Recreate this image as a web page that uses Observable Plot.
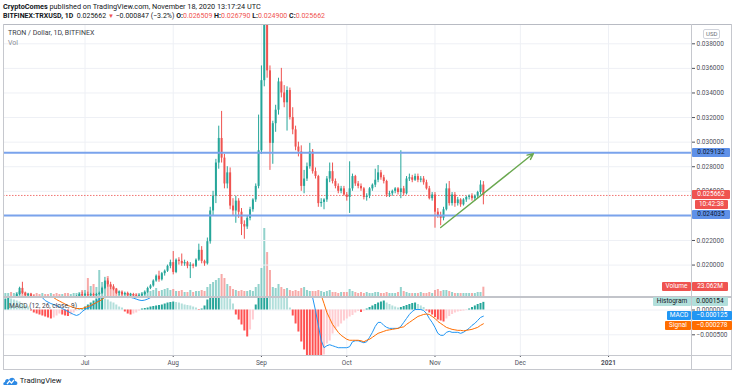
<!DOCTYPE html>
<html>
<head>
<meta charset="utf-8">
<script src="https://cdn.jsdelivr.net/npm/d3@7"></script>
<script src="https://cdn.jsdelivr.net/npm/@observablehq/plot@0.6"></script>
<style>
html,body{margin:0;padding:0;background:#fff;}
#wrap{position:relative;width:736px;height:391px;overflow:hidden;font-family:Roboto,"Open Sans",sans-serif;color:#131722;}
.t{position:absolute;white-space:nowrap;}
.bx{position:absolute;height:9px;line-height:9px;font-size:6.5px;white-space:nowrap;text-align:center;border-radius:1px;}
.ln{position:absolute;background:#c6c8ce;}
</style>
</head>
<body>
<div id="wrap"></div>
<script>
// ---------- DATA (daily candles BITFINEX:TRXUSD, 2020-06-03 .. 2020-11-18) ----------
const firstDay = "2020-06-03";
const dayAfterLast = "2020-11-19";

const open = [
 0.0169,0.0171,0.0172,0.0171,0.0173,0.0176,0.0181,0.0177,0.0175,0.0176,0.0174,0.0171,0.0170,0.0168,0.0169,0.0167,0.0166,0.0168,0.0167,0.0165,0.0164,0.0166,0.0165,0.0163,0.0166,0.0170,0.0173,0.0176,
 0.0175,0.0176,0.0175,0.0176,0.0175,0.0176,0.0177,0.0181,0.0187,0.0184,0.0182,0.0180,0.0177,0.0178,0.0176,0.0177,0.0175,0.0176,0.0175,0.0174,0.0175,0.0176,0.0178,0.0181,0.0183,0.0187,0.0191,0.0188,0.0193,0.0195,0.0199,
 0.0202,0.0194,0.0204,0.0203,0.0201,0.0202,0.0199,0.0200,0.0199,0.0204,0.0212,0.0203,0.0201,0.0219,0.0244,0.0256,0.0283,0.0303,0.0287,0.0266,0.0275,0.0248,0.0244,0.0252,0.0243,0.0233,0.0231,0.0238,0.0245,0.0253,0.0264,
 0.0293,0.0350,0.0405,0.0358,0.0299,0.0315,0.0326,0.0349,0.0340,0.0332,0.0342,0.0320,0.0310,0.0296,0.0292,0.0264,0.0270,0.0280,0.0292,0.0276,0.0272,0.0250,0.0251,0.0253,0.0270,0.0276,0.0268,0.0264,0.0260,0.0262,0.0257,
 0.0255,0.0262,0.0272,0.0266,0.0264,0.0262,0.0255,0.0256,0.0262,0.0265,0.0269,0.0275,0.0271,0.0268,0.0257,0.0258,0.0260,0.0262,0.0259,0.0262,0.0258,0.0270,0.0271,0.0269,0.0272,0.0269,0.0270,0.0267,0.0262,0.0254,0.0257,
 0.0243,0.0240,0.0238,0.0245,0.0262,0.0250,0.0257,0.0250,0.0253,0.0249,0.0253,0.0255,0.0256,0.0254,0.0256,0.0259,0.026509
];
const high = [
 0.0172,0.0173,0.0173,0.0174,0.0177,0.0182,0.0186,0.0178,0.0177,0.0177,0.0175,0.0172,0.0171,0.0170,0.0170,0.0168,0.0169,0.0169,0.0168,0.0166,0.0167,0.0167,0.0166,0.0167,0.0171,0.0175,0.0177,0.0178,
 0.0177,0.0178,0.0177,0.0177,0.0177,0.0178,0.0182,0.0190,0.0189,0.0186,0.0184,0.0181,0.0179,0.0179,0.0178,0.0178,0.0177,0.0177,0.0176,0.0176,0.0177,0.0179,0.0182,0.0184,0.0188,0.0192,0.0195,0.0194,0.0196,0.0200,0.0204,
 0.0211,0.0205,0.0206,0.0209,0.0204,0.0203,0.0202,0.0201,0.0205,0.0217,0.0215,0.0204,0.0222,0.0247,0.0260,0.0286,0.0313,0.0325,0.0290,0.0280,0.0279,0.0254,0.0256,0.0254,0.0246,0.0236,0.0240,0.0247,0.0254,0.0266,0.0322,
 0.0362,0.0430,0.0435,0.0362,0.0317,0.0330,0.0352,0.0360,0.0346,0.0345,0.0344,0.0328,0.0313,0.0300,0.0297,0.0277,0.0283,0.0299,0.0294,0.0279,0.0273,0.0254,0.0254,0.0272,0.0283,0.0283,0.0270,0.0266,0.0264,0.0264,0.0259,
 0.0284,0.0274,0.0273,0.0268,0.0266,0.0263,0.0258,0.0263,0.0266,0.0278,0.0281,0.0277,0.0273,0.0269,0.0260,0.0261,0.0263,0.0263,0.0293,0.0264,0.0272,0.0274,0.0273,0.0274,0.0274,0.0272,0.0272,0.0269,0.0264,0.0259,0.0259,
 0.0246,0.0243,0.0247,0.0266,0.0268,0.0259,0.0259,0.0255,0.0254,0.0254,0.0256,0.0257,0.0258,0.0257,0.0260,0.02686,0.02679
];
const low = [
 0.0168,0.0170,0.0170,0.0170,0.0172,0.0175,0.0176,0.0174,0.0173,0.0173,0.0170,0.0169,0.0167,0.0167,0.0166,0.0165,0.0165,0.0166,0.0164,0.0163,0.0163,0.0164,0.0162,0.0162,0.0165,0.0169,0.0172,0.0174,
 0.0173,0.0174,0.0174,0.0174,0.0174,0.0175,0.0176,0.0180,0.0182,0.0180,0.0179,0.0176,0.0175,0.0175,0.0175,0.0174,0.0174,0.0174,0.0173,0.0173,0.0174,0.0175,0.0177,0.0180,0.0182,0.0186,0.0186,0.0187,0.0191,0.0194,0.0197,
 0.0192,0.0193,0.0200,0.0199,0.0199,0.0197,0.0189,0.0197,0.0198,0.0203,0.0201,0.0199,0.0200,0.0217,0.0240,0.0250,0.0278,0.0283,0.0262,0.0262,0.0245,0.0240,0.0234,0.0238,0.0224,0.0221,0.0229,0.0236,0.0243,0.0251,0.0262,
 0.0290,0.0345,0.0352,0.0277,0.0282,0.0308,0.0322,0.0336,0.0328,0.0309,0.0318,0.0306,0.0293,0.0288,0.0260,0.0258,0.0268,0.0278,0.0274,0.0270,0.0247,0.0247,0.0245,0.0251,0.0267,0.0266,0.0262,0.0258,0.0258,0.0256,0.0252,
 0.0242,0.0260,0.0264,0.0262,0.0260,0.0253,0.0252,0.0254,0.0260,0.0263,0.0267,0.0269,0.0266,0.0255,0.0255,0.0256,0.0258,0.0257,0.0254,0.0256,0.0257,0.0268,0.0267,0.0268,0.0267,0.0267,0.0265,0.0261,0.0253,0.0252,0.0230,
 0.0238,0.0232,0.0236,0.0244,0.0248,0.0248,0.0247,0.0248,0.0247,0.0248,0.0251,0.0253,0.0252,0.0252,0.0254,0.0257,0.0249
];
const close = [
 0.0171,0.0172,0.0171,0.0173,0.0176,0.0181,0.0177,0.0175,0.0176,0.0174,0.0171,0.0170,0.0168,0.0169,0.0167,0.0166,0.0168,0.0167,0.0165,0.0164,0.0166,0.0165,0.0163,0.0166,0.0170,0.0173,0.0176,0.0175,
 0.0176,0.0175,0.0176,0.0175,0.0176,0.0177,0.0181,0.0187,0.0184,0.0182,0.0180,0.0177,0.0178,0.0176,0.0177,0.0175,0.0176,0.0175,0.0174,0.0175,0.0176,0.0178,0.0181,0.0183,0.0187,0.0191,0.0188,0.0193,0.0195,0.0199,0.0202,
 0.0194,0.0204,0.0203,0.0201,0.0202,0.0199,0.0200,0.0199,0.0204,0.0212,0.0203,0.0201,0.0219,0.0244,0.0256,0.0283,0.0303,0.0287,0.0266,0.0275,0.0248,0.0244,0.0252,0.0243,0.0233,0.0231,0.0238,0.0245,0.0253,0.0264,0.0293,
 0.0350,0.0405,0.0358,0.0299,0.0315,0.0326,0.0349,0.0340,0.0332,0.0342,0.0320,0.0310,0.0296,0.0292,0.0264,0.0270,0.0280,0.0292,0.0276,0.0272,0.0250,0.0251,0.0253,0.0270,0.0276,0.0268,0.0264,0.0260,0.0262,0.0257,0.0255,
 0.0262,0.0272,0.0266,0.0264,0.0262,0.0255,0.0256,0.0262,0.0265,0.0269,0.0275,0.0271,0.0268,0.0257,0.0258,0.0260,0.0262,0.0259,0.0262,0.0258,0.0270,0.0271,0.0269,0.0272,0.0269,0.0270,0.0267,0.0262,0.0254,0.0257,0.0243,
 0.0240,0.0238,0.0245,0.0262,0.0250,0.0257,0.0250,0.0253,0.0249,0.0253,0.0255,0.0256,0.0254,0.0256,0.0259,0.026509,0.025662
];
// volume in millions of TRX
const volumeM = [
 7.4,7.4,9.9,7.4,9.9,12.4,12.4,9.9,7.4,7.4,5,7.4,5,7.4,5,5,7.4,5,7.4,5,5,7.4,7.4,5,7.4,7.4,9.9,14.9,
 14.9,44.6,24.8,29.8,22.3,64.5,34.7,29.8,49.6,27.3,24.8,19.8,12.4,9.9,7.4,7.4,7.4,5,7.4,7.4,9.9,9.9,12.4,12.4,14.9,19.8,12.4,14.9,17.4,19.8,14.9,
 17.4,12.4,12.4,14.9,9.9,9.9,14.9,9.9,12.4,12.4,14.9,12.4,22.3,29.8,34.7,39.7,44.6,54.6,44.6,29.8,24.8,17.4,14.9,12.4,14.9,12.4,12.4,14.9,12.4,22.3,29.8,
 69.4,168.6,109,64.5,22.3,19.8,29.8,22.3,17.4,19.8,14.9,12.4,14.9,12.4,19.8,22.3,14.9,12.4,12.4,12.4,14.9,12.4,9.9,12.4,14.9,9.9,9.9,7.4,9.9,9.9,9.9,
 17.4,12.4,9.9,7.4,9.9,7.4,9.9,7.4,7.4,9.9,9.9,7.4,7.4,9.9,7.4,7.4,7.4,9.9,22.3,12.4,9.9,7.4,7.4,7.4,7.4,9.9,7.4,7.4,9.9,7.4,14.9,
 17.4,12.4,14.9,14.9,12.4,9.9,7.4,7.4,7.4,7.4,7.4,7.4,7.4,7.4,9.9,9.9,23.062
];
// MACD (12, 26, close, 9)
const macdLine = [
 800e-6,760e-6,700e-6,640e-6,580e-6,530e-6,470e-6,420e-6,370e-6,330e-6,300e-6,280e-6,260e-6,250e-6,190e-6,160e-6,130e-6,110e-6,90e-6,60e-6,30e-6,0,-30e-6,-60e-6,-90e-6,-110e-6,-90e-6,-30e-6,
 10e-6,40e-6,70e-6,110e-6,150e-6,220e-6,290e-6,350e-6,380e-6,370e-6,350e-6,320e-6,300e-6,280e-6,260e-6,250e-6,255e-6,240e-6,220e-6,200e-6,190e-6,200e-6,220e-6,250e-6,280e-6,330e-6,370e-6,420e-6,470e-6,530e-6,590e-6,
 610e-6,640e-6,660e-6,670e-6,670e-6,660e-6,650e-6,640e-6,640e-6,660e-6,680e-6,700e-6,850e-6,1100e-6,1400e-6,1800e-6,2200e-6,2400e-6,2500e-6,2550e-6,2450e-6,2350e-6,2250e-6,2100e-6,1950e-6,1800e-6,1700e-6,1700e-6,1750e-6,1900e-6,2300e-6,
 3000e-6,3800e-6,4200e-6,4300e-6,4300e-6,4250e-6,4250e-6,4200e-6,4050e-6,3900e-6,3700e-6,3450e-6,3150e-6,2800e-6,2300e-6,1800e-6,1300e-6,800e-6,250e-6,-10e-6,-310e-6,-610e-6,-760e-6,-720e-6,-700e-6,-720e-6,-740e-6,-760e-6,-760e-6,-760e-6,-760e-6,
 -740e-6,-640e-6,-620e-6,-620e-6,-640e-6,-660e-6,-640e-6,-550e-6,-450e-6,-330e-6,-250e-6,-250e-6,-310e-6,-350e-6,-370e-6,-370e-6,-370e-6,-370e-6,-330e-6,-250e-6,-170e-6,-90e-6,-30e-6,10e-6,10e-6,10e-6,-10e-6,-70e-6,-170e-6,-250e-6,-350e-6,
 -470e-6,-510e-6,-510e-6,-450e-6,-430e-6,-450e-6,-450e-6,-450e-6,-470e-6,-450e-6,-410e-6,-370e-6,-310e-6,-270e-6,-210e-6,-150e-6,-125e-6
];
const signalLine = [
 580e-6,600e-6,610e-6,610e-6,600e-6,590e-6,570e-6,540e-6,510e-6,480e-6,450e-6,420e-6,390e-6,360e-6,330e-6,300e-6,280e-6,250e-6,210e-6,180e-6,150e-6,120e-6,90e-6,70e-6,50e-6,30e-6,30e-6,30e-6,
 50e-6,70e-6,90e-6,120e-6,150e-6,180e-6,210e-6,260e-6,290e-6,300e-6,310e-6,310e-6,310e-6,300e-6,300e-6,300e-6,300e-6,290e-6,280e-6,270e-6,260e-6,255e-6,255e-6,260e-6,270e-6,290e-6,310e-6,330e-6,360e-6,390e-6,430e-6,
 460e-6,490e-6,520e-6,550e-6,570e-6,580e-6,590e-6,600e-6,610e-6,620e-6,640e-6,650e-6,680e-6,760e-6,880e-6,1050e-6,1250e-6,1450e-6,1650e-6,1800e-6,1950e-6,2050e-6,2100e-6,2100e-6,2050e-6,2000e-6,1950e-6,1900e-6,1850e-6,1850e-6,1900e-6,
 2100e-6,2350e-6,2650e-6,2950e-6,3200e-6,3400e-6,3550e-6,3650e-6,3700e-6,3700e-6,3700e-6,3650e-6,3550e-6,3400e-6,3200e-6,2950e-6,2650e-6,2300e-6,2000e-6,1400e-6,800e-6,300e-6,130e-6,-50e-6,-170e-6,-290e-6,-370e-6,-450e-6,-510e-6,-550e-6,-590e-6,
 -610e-6,-610e-6,-610e-6,-610e-6,-620e-6,-640e-6,-610e-6,-590e-6,-550e-6,-510e-6,-470e-6,-450e-6,-430e-6,-410e-6,-400e-6,-390e-6,-380e-6,-370e-6,-350e-6,-340e-6,-290e-6,-250e-6,-210e-6,-170e-6,-130e-6,-110e-6,-90e-6,-80e-6,-90e-6,-130e-6,-170e-6,
 -230e-6,-270e-6,-310e-6,-350e-6,-370e-6,-390e-6,-400e-6,-410e-6,-410e-6,-420e-6,-410e-6,-400e-6,-390e-6,-370e-6,-350e-6,-310e-6,-278e-6
];
const histogram = [
 222e-6,242e-6,222e-6,202e-6,181e-6,161e-6,121e-6,81e-6,60e-6,-20e-6,-60e-6,-81e-6,-101e-6,-121e-6,-141e-6,-161e-6,-181e-6,-161e-6,-121e-6,-81e-6,-101e-6,-121e-6,-131e-6,-101e-6,-60e-6,-20e-6,10e-6,20e-6,
 60e-6,101e-6,141e-6,181e-6,222e-6,242e-6,252e-6,222e-6,202e-6,161e-6,141e-6,101e-6,60e-6,40e-6,-40e-6,-81e-6,-101e-6,-81e-6,-60e-6,-20e-6,20e-6,30e-6,40e-6,60e-6,71e-6,81e-6,91e-6,101e-6,121e-6,141e-6,151e-6,
 161e-6,151e-6,141e-6,121e-6,101e-6,91e-6,81e-6,60e-6,40e-6,-10e-6,20e-6,81e-6,202e-6,323e-6,403e-6,504e-6,564e-6,524e-6,403e-6,302e-6,222e-6,121e-6,-101e-6,-202e-6,-302e-6,-423e-6,-544e-6,-403e-6,-202e-6,101e-6,403e-6,
 806e-6,1109e-6,1210e-6,1109e-6,968e-6,806e-6,685e-6,564e-6,403e-6,282e-6,40e-6,-121e-6,-282e-6,-444e-6,-645e-6,-806e-6,-927e-6,-1008e-6,-1109e-6,-1210e-6,-1331e-6,-1411e-6,-907e-6,-685e-6,-625e-6,-484e-6,-403e-6,-343e-6,-282e-6,-222e-6,-181e-6,
 -141e-6,-111e-6,-60e-6,-30e-6,-50e-6,-20e-6,20e-6,50e-6,81e-6,111e-6,141e-6,161e-6,181e-6,141e-6,111e-6,81e-6,60e-6,40e-6,50e-6,71e-6,91e-6,111e-6,131e-6,141e-6,111e-6,81e-6,50e-6,-20e-6,-60e-6,-101e-6,-151e-6,
 -202e-6,-222e-6,-242e-6,-181e-6,-131e-6,-91e-6,-60e-6,-40e-6,-30e-6,-20e-6,-10e-6,20e-6,50e-6,81e-6,111e-6,131e-6,154e-6
];

// axis ticks / labels / annotations
const monthTicks = ["2020-07-01","2020-08-01","2020-09-01","2020-10-01","2020-11-01","2020-12-01","2021-01-01"];
const monthLabels = ["Jul","Aug","Sep","Oct","Nov","Dec","2021"];
const priceTicks = [0.020,0.022,0.024,0.026,0.028,0.030,0.032,0.034,0.036,0.038];
const macdTicks = [0, -0.0005];
const levels = [0.029132, 0.024035];
const trendDates = ["2020-11-03T00:00Z","2020-12-05T14:00Z"];
const trendPrices = [0.02305, 0.02907];
const countdown = "10:42:38";
const visibleRange = ["2020-06-02T08:24Z","2021-01-30T03:36Z"];
const priceRange = [0.017443, 0.03957];
const macdRange = [-0.000917, 0.000252];
const volumeRangeM = [0, 674.6];

// ---------- BUILD ----------
const dates = d3.utcDay.range(new Date(firstDay), new Date(dayAfterLast));
const candles = dates.map((date, i) => ({
  date, open: open[i], high: high[i], low: low[i], close: close[i], vol: volumeM[i],
  macd: macdLine[i], signal: signalLine[i], hist: histogram[i], prevHist: i ? histogram[i-1] : histogram[i]
}));
const months = monthTicks.map(s => new Date(s));
const labelOf = new Map(months.map((d, i) => [+d, monthLabels[i]]));
const xDomain = visibleRange.map(s => new Date(s));
const UP = "#26a69a", DOWN = "#ef5350";
const dir = d => d.close >= d.open ? UP : DOWN;
const vdir = d => d.close >= d.open ? "rgba(38,166,154,0.5)" : "rgba(239,83,80,0.5)";
const hcol = d => d.hist >= 0 ? (d.hist >= d.prevHist ? "#26a69a" : "#b2dfdb") : (d.hist <= d.prevHist ? "#ff5252" : "#ffcdd2");
const minus = v => (v < 0 ? "\u2212" : "") + Math.abs(v).toFixed(6);
const GRID = "#eef0f5";
const style = {position:"absolute", left:"0px", top:"0px", background:"none",
  fontFamily:"Roboto, 'Open Sans', sans-serif", fontSize:"6.5px", color:"#4f525c", overflow:"visible"};
const base = {width:736, height:391, marginLeft:3, marginRight:45, style};

const wrap = document.getElementById("wrap");

const volPlot = Plot.plot({...base, marginTop:24, marginBottom:95,
  x:{type:"utc", domain:xDomain, axis:null},
  y:{domain:volumeRangeM, axis:null},
  marks:[
    Plot.gridX(months, {stroke:GRID, strokeOpacity:1}),
    Plot.ruleX(candles, {x:"date", y1:0, y2:"vol", stroke:vdir, strokeWidth:2})
  ]});

const trend = [{x1:new Date(trendDates[0]), y1:trendPrices[0], x2:new Date(trendDates[1]), y2:trendPrices[1]}];
const lastC = candles[candles.length-1];
const pricePlot = Plot.plot({...base, marginTop:24, marginBottom:95,
  x:{type:"utc", domain:xDomain, axis:null},
  y:{domain:priceRange, axis:null},
  marks:[
    Plot.gridY(priceTicks, {stroke:GRID, strokeOpacity:1}),
    Plot.ruleY([lastC.close], {stroke:"#ef5350", strokeWidth:0.8, strokeDasharray:"1.5,1.5"}),
    Plot.ruleX(candles, {x:"date", y1:"low", y2:"high", stroke:dir, strokeWidth:1, clip:true}),
    Plot.ruleX(candles, {x:"date", y1:"open", y2:"close", stroke:dir, strokeWidth:2, clip:true}),
    Plot.ruleY(levels, {stroke:"#7aa3ec", strokeWidth:2}),
    Plot.arrow(trend, {x1:"x1", y1:"y1", x2:"x2", y2:"y2", stroke:"#6aa84f", strokeWidth:1.4, headLength:7, headAngle:50}),
    Plot.axisY(priceTicks, {anchor:"right", tickSize:3, tickPadding:2, tickFormat:d => d.toFixed(6)})
  ]});

const macdPlot = Plot.plot({...base, marginTop:297, marginBottom:36,
  x:{type:"utc", domain:xDomain, axis:null},
  y:{domain:macdRange, axis:null},
  marks:[
    Plot.gridX(months, {stroke:GRID, strokeOpacity:1}),
    Plot.gridY(macdTicks, {stroke:GRID, strokeOpacity:1}),
    Plot.ruleX(candles, {x:"date", y1:0, y2:"hist", stroke:hcol, strokeWidth:2, clip:true}),
    Plot.lineY(candles, {x:"date", y:"macd", stroke:"#2196f3", strokeWidth:1, clip:true}),
    Plot.lineY(candles, {x:"date", y:"signal", stroke:"#ff6d00", strokeWidth:1, clip:true}),
    Plot.axisY(macdTicks, {anchor:"right", tickSize:3, tickPadding:2, tickFormat:minus}),
    Plot.axisX(months.slice(0, 6), {anchor:"bottom", tickSize:2, tickPadding:3, tickFormat:d => labelOf.get(+d)}),
    Plot.axisX(months.slice(6), {anchor:"bottom", tickSize:2, tickPadding:3, fontWeight:"bold", tickFormat:d => labelOf.get(+d)})
  ]});

wrap.append(volPlot, pricePlot, macdPlot);

// ---------- frame lines ----------
function line(l, t, w, h, c) { const d = document.createElement("div"); d.className = "ln";
  Object.assign(d.style, {left:l+"px", top:t+"px", width:w+"px", height:h+"px"}); if (c) d.style.background = c; wrap.append(d); }
line(3, 24, 729, 1, "#b8bbc3"); line(3, 24, 1, 346); line(731, 24, 1, 346);
line(3, 369, 729, 1); line(691, 24, 1, 346); line(3, 296, 729, 1.5, "#c2c4ca"); line(3, 355, 729, 1);

// ---------- text ----------
function text(html, l, t, css) { const d = document.createElement("div"); d.className = "t"; d.innerHTML = html;
  Object.assign(d.style, {left:l+"px", top:t+"px"}, css || {}); wrap.append(d); return d; }
function box(txt, l, yc, w, bg, col, css) { const d = document.createElement("div"); d.className = "bx"; d.textContent = txt;
  Object.assign(d.style, {left:l+"px", top:(yc-4.5)+"px", width:w+"px", background:bg, color:col}, css || {}); wrap.append(d); return d; }

const prev = candles[candles.length-2].close;
const chg = lastC.close - prev;
const RED = "#ef5350";
const f6 = v => v.toFixed(6);
text("<b>CryptoComes</b> published on TradingView.com, November 18, 2020 13:17:24 UTC", 3, 2, {fontSize:"7.3px", lineHeight:"10px"});
text(`<b>BITFINEX:TRXUSD, 1D</b>&nbsp; ${f6(lastC.close)} <span style="color:${RED};font-size:6px">&#9660;</span> ${minus(chg)} (${chg<0?"\u2212":""}${Math.abs(chg/prev*100).toFixed(1)}%) `
  + `<b>O:</b><span style="color:${RED}">${f6(lastC.open)}</span> <b>H:</b><span style="color:${RED}">${f6(lastC.high)}</span> `
  + `<b>L:</b><span style="color:${RED}">${f6(lastC.low)}</span> <b>C:</b><span style="color:${RED}">${f6(lastC.close)}</span>`,
  3, 11, {fontSize:"7px", lineHeight:"10px"});
text("TRON / Dollar, 1D, BITFINEX", 8, 28, {fontSize:"7px", lineHeight:"10px", color:"#3a3d47"});
text("Vol", 8, 38, {fontSize:"7px", lineHeight:"10px", color:"#8a8d96"});
text("MACD (12, 26, close, 9)", 9, 301, {fontSize:"6.6px", lineHeight:"10px", color:"#3a3d47"});
text("USD", 703, 28.5, {fontSize:"6px", lineHeight:"8px", color:"#6a6d78", border:"1px solid #d1d4dc", borderRadius:"2px", padding:"0 2px"});

// axis value boxes positioned through the plots' scales
const py = v => pricePlot.scale("y").apply(v);
const my = v => macdPlot.scale("y").apply(v);
const vy = v => volPlot.scale("y").apply(v);
levels.forEach(v => box(f6(v), 692, py(v), 38, "#5f91e8", "#0e1a33"));
const yLast = py(lastC.close);
box(f6(lastC.close), 692, yLast, 38, RED, "#fff");
box(countdown, 695, yLast + 10, 33, RED, "#fff");
const yVol = vy(lastC.vol);
box("Volume", 662, yVol, 29, RED, "#fff");
box(lastC.vol.toFixed(3) + "M", 692, yVol, 36, RED, "#fff");
const yH = my(lastC.hist);
const yM = Math.max(my(lastC.macd), yH + 10);
const yS = Math.max(my(lastC.signal), yM + 10);
box("Histogram", 653, yH, 38, "#b2dfdb", "#131722");
box(f6(lastC.hist), 692, yH, 36, "#b2dfdb", "#131722");
box("MACD", 667, yM, 24, "#2196f3", "#fff");
box(minus(lastC.macd), 692, yM, 40, "#2196f3", "#fff");
box("Signal", 665, yS, 26, "#ff6d00", "#fff");
box(minus(lastC.signal), 692, yS, 40, "#ff6d00", "#fff");

// footer
text(`<svg width="15" height="10" viewBox="0 0 15 10" style="vertical-align:middle"><path d="M1 9 C0 9 0 6 2 6 C2 3 5 2 6 4 C7 1 12 1 12 5 C15 5 15 9 13 9 Z" fill="#2d8ae5"/><path d="M4 8 L6.5 5 L8.5 7 L11 4" stroke="#fff" stroke-width="1.2" fill="none"/></svg> TradingView`, 3, 376, {fontSize:"7.6px", lineHeight:"10px"});
</script>
</body>
</html>
